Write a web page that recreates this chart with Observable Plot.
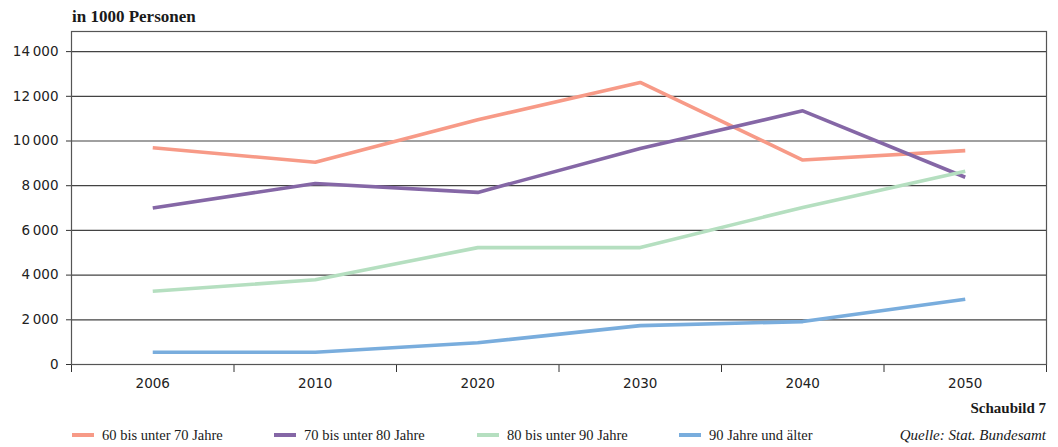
<!DOCTYPE html>
<html>
<head>
<meta charset="utf-8">
<script src="https://cdn.jsdelivr.net/npm/d3@7"></script>
<script src="https://cdn.jsdelivr.net/npm/@observablehq/plot@0.6"></script>
<style>
  html, body { margin: 0; padding: 0; background: #fff; }
  #wrap { position: relative; width: 1058px; height: 447px; overflow: hidden; }
  #chart { position: absolute; left: 0; top: 0; }
  .serif { font-family: "Liberation Serif", "DejaVu Serif", serif; color: #1a1a1a; }
  #title { position: absolute; left: 72px; top: 7px; font-size: 17px; font-weight: bold; }
  #legend { position: absolute; left: 0; top: 427px; width: 1058px; height: 20px; font-size: 14.5px; }
  .item { position: absolute; top: 0; white-space: nowrap; }
  .sw { display: inline-block; width: 22px; height: 4px; vertical-align: middle; margin-right: 8px; position: relative; top: -2px; }
  #credit { position: absolute; right: 12px; top: 400px; font-size: 15px; font-weight: bold; }
  #source { position: absolute; right: 12px; top: 427px; font-size: 15px; font-style: italic; }
</style>
</head>
<body>
<div id="wrap">
  <div id="chart"></div>
  <div id="title" class="serif">in 1000 Personen</div>
  <div id="credit" class="serif">Schaubild 7</div>
  <div id="legend" class="serif"></div>
  <div id="source" class="serif">Quelle: Stat. Bundesamt</div>
</div>
<script>
// Population by age group, in thousands
const years = ["2006", "2010", "2020", "2030", "2040", "2050"];
const seriesNames = ["60 bis unter 70 Jahre", "70 bis unter 80 Jahre", "80 bis unter 90 Jahre", "90 Jahre und älter"];
const seriesColors = ["#F79A87", "#8567A6", "#B5DFC0", "#79ADDD"];
const age60to70 = [9700, 9050, 10950, 12620, 9150, 9570];
const age70to80 = [7000, 8100, 7700, 9660, 11350, 8380];
const age80to90 = [3280, 3790, 5230, 5230, 7030, 8650];
const age90plus = [550, 550, 970, 1740, 1920, 2920];
const yTicks = [0, 2000, 4000, 6000, 8000, 10000, 12000, 14000];

const allSeries = [age60to70, age70to80, age80to90, age90plus];
const rows = allSeries.flatMap((vals, s) =>
  vals.map((v, i) => ({ i, value: v, series: seriesNames[s] }))
);

const fmt = v => v >= 1000 ? `${Math.floor(v / 1000)}\u2009${String(v % 1000).padStart(3, "0")}` : `${v}`;
const sansFont = "'DejaVu Sans', 'Noto Sans', sans-serif";

const chart = Plot.plot({
  width: 1058,
  height: 395,
  marginTop: 31,
  marginBottom: 31,
  marginLeft: 71,
  marginRight: 12,
  style: { fontFamily: sansFont, fontSize: "13px", color: "#222", background: "transparent" },
  x: { domain: [-0.5, years.length - 0.5], axis: null },
  y: { domain: [0, 14900], axis: null },
  color: { domain: seriesNames, range: seriesColors },
  marks: [
    Plot.gridY(yTicks, { stroke: "#222", strokeOpacity: 0.85, strokeWidth: 1.2 }),
    Plot.axisY(yTicks, { label: null, tickSize: 5, tickPadding: 8, tickFormat: fmt, stroke: "#333", fontSize: 13.5 }),
    Plot.axisX(d3.range(years.length + 1).map(i => i - 0.5), { label: null, tickSize: 8, tickFormat: () => "", stroke: "#333" }),
    Plot.axisX(d3.range(years.length), { label: null, tickSize: 0, tickPadding: 14, tickFormat: i => years[i], fontSize: 13.5 }),
    Plot.line(rows, { x: "i", y: "value", z: "series", stroke: "series", strokeWidth: 3.6, strokeLinejoin: "miter", strokeLinecap: "butt" }),
    Plot.ruleY([0], { stroke: "#333", strokeWidth: 1.2 }),
    Plot.frame({ stroke: "#555", strokeWidth: 1.2 })
  ]
});
document.getElementById("chart").append(chart);

// Legend row below the chart
const legendX = [72, 274, 477, 679];
const legend = document.getElementById("legend");
seriesNames.forEach((name, k) => {
  const item = document.createElement("div");
  item.className = "item";
  item.style.left = legendX[k] + "px";
  item.innerHTML = `<span class="sw" style="background:${seriesColors[k]}"></span>${name}`;
  legend.append(item);
});
</script>
</body>
</html>
